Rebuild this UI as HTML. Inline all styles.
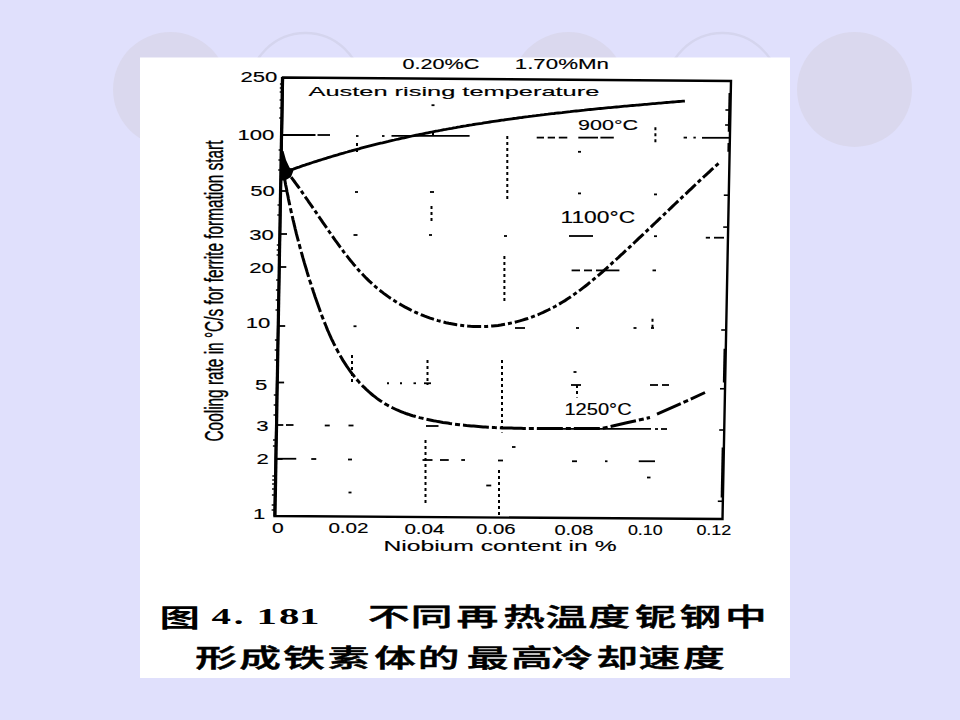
<!DOCTYPE html>
<html><head><meta charset="utf-8"><style>
html,body{margin:0;padding:0;}
body{width:960px;height:720px;overflow:hidden;background:#E0E0FC;position:relative;}
svg{position:absolute;left:0;top:0;}
</style></head><body>
<svg width="960" height="720" viewBox="0 0 960 720">
<rect width="960" height="720" fill="#E0E0FC"/>
<circle cx="170.5" cy="89.5" r="57.5" fill="#DAD8EE"/>
<circle cx="305.5" cy="89.5" r="56.5" fill="none" stroke="#D5D5EE" stroke-width="2.4"/>
<circle cx="568.5" cy="89.5" r="57.5" fill="#DAD8EE"/>
<circle cx="722.5" cy="89.5" r="56.5" fill="none" stroke="#D5D5EE" stroke-width="2.4"/>
<circle cx="854.5" cy="89.5" r="57.5" fill="#DAD8EE"/>
<rect x="140" y="57.5" width="650" height="620.5" fill="#fff"/>
<g fill="#000">
<polygon points="283,77.5 731,81 722.5,519 274.5,516" fill="none" stroke="#000" stroke-width="2.4" stroke-linejoin="miter"/>
<line x1="282.5" y1="77" x2="275" y2="516" stroke="#000" stroke-width="3.2"/>
<path d="M289.5,170.4 L291.4,169.7 L293.3,169.1 L295.3,168.4 L297.2,167.7 L299.1,167.1 L301.0,166.4 L302.9,165.7 L304.8,165.1 L306.7,164.4 L308.7,163.8 L310.6,163.2 L312.5,162.5 L314.4,161.9 L316.4,161.3 L318.3,160.7 L320.2,160.1 L322.1,159.5 L324.1,158.9 L326.0,158.3 L327.9,157.7 L329.9,157.1 L331.8,156.5 L333.7,155.9 L335.7,155.3 L337.6,154.8 L339.6,154.2 L341.5,153.6 L343.5,153.1 L345.4,152.5 L347.3,152.0 L349.3,151.4 L351.2,150.9 L353.2,150.3 L355.1,149.8 L357.1,149.3 L359.0,148.8 L361.0,148.2 L362.9,147.7 L364.9,147.2 L366.8,146.7 L368.8,146.2 L370.8,145.7 L372.7,145.2 L374.7,144.7 L376.6,144.2 L378.6,143.7 L380.6,143.2 L382.5,142.8 L384.5,142.3 L386.5,141.8 L388.4,141.4 L390.4,140.9 L392.4,140.4 L394.3,140.0 L396.3,139.5 L398.3,139.1 L400.2,138.6 L402.2,138.2 L404.2,137.8 L406.2,137.3 L408.1,136.9 L410.1,136.5 L412.1,136.0 L414.1,135.6 L416.1,135.2 L418.0,134.8 L420.0,134.4 L422.0,134.0 L424.0,133.6 L426.0,133.2 L427.9,132.8 L429.9,132.4 L431.9,132.0 L433.9,131.6 L435.9,131.2 L437.9,130.9 L439.9,130.5 L441.9,130.1 L443.8,129.7 L445.8,129.4 L447.8,129.0 L449.8,128.6 L451.8,128.3 L453.8,127.9 L455.8,127.6 L457.8,127.2 L459.8,126.9 L461.8,126.5 L463.8,126.2 L465.8,125.9 L467.8,125.5 L469.8,125.2 L471.8,124.9 L473.8,124.5 L475.8,124.2 L477.8,123.9 L479.8,123.6 L481.8,123.3 L483.8,122.9 L485.8,122.6 L487.8,122.3 L489.8,122.0 L491.8,121.7 L493.8,121.4 L495.8,121.1 L497.8,120.8 L499.8,120.5 L501.8,120.2 L503.8,120.0 L505.8,119.7 L507.8,119.4 L509.8,119.1 L511.8,118.8 L513.8,118.5 L515.8,118.3 L517.9,118.0 L519.9,117.7 L521.9,117.5 L523.9,117.2 L525.9,116.9 L527.9,116.7 L529.9,116.4 L531.9,116.2 L533.9,115.9 L535.9,115.7 L538.0,115.4 L540.0,115.2 L542.0,114.9 L544.0,114.7 L546.0,114.4 L548.0,114.2 L550.0,113.9 L552.0,113.7 L554.1,113.5 L556.1,113.2 L558.1,113.0 L560.1,112.8 L562.1,112.6 L564.1,112.3 L566.1,112.1 L568.2,111.9 L570.2,111.7 L572.2,111.4 L574.2,111.2 L576.2,111.0 L578.2,110.8 L580.2,110.6 L582.3,110.4 L584.3,110.2 L586.3,109.9 L588.3,109.7 L590.3,109.5 L592.3,109.3 L594.4,109.1 L596.4,108.9 L598.4,108.7 L600.4,108.5 L602.4,108.3 L604.4,108.1 L606.4,107.9 L608.5,107.7 L610.5,107.6 L612.5,107.4 L614.5,107.2 L616.5,107.0 L618.5,106.8 L620.6,106.6 L622.6,106.4 L624.6,106.2 L626.6,106.1 L628.6,105.9 L630.6,105.7 L632.6,105.5 L634.7,105.3 L636.7,105.1 L638.7,105.0 L640.7,104.8 L642.7,104.6 L644.7,104.4 L646.7,104.3 L648.7,104.1 L650.8,103.9 L652.8,103.7 L654.8,103.6 L656.8,103.4 L658.8,103.2 L660.8,103.1 L662.8,102.9 L664.8,102.7 L666.8,102.5 L668.9,102.4 L670.9,102.2 L672.9,102.0 L674.9,101.9 L676.9,101.7 L678.9,101.5 L680.9,101.4 L682.9,101.2 L684.9,101.1" fill="none" stroke="#000" stroke-width="2.8"/>
<path d="M291.2,177.1 L292.8,179.3 L294.4,181.5 L296.1,183.8 L297.7,186.0 L299.3,188.2 L300.9,190.5 L302.4,192.7 L304.0,195.0 L305.6,197.3 L307.2,199.5 L308.7,201.8 L310.3,204.1 L311.9,206.4 L313.4,208.6 L315.0,210.9 L316.6,213.2 L318.1,215.5 L319.7,217.8 L321.3,220.1 L322.8,222.4 L324.4,224.7 L326.0,226.9 L327.6,229.2 L329.1,231.5 L330.7,233.8 L332.3,236.0 L333.9,238.3 L335.5,240.6 L337.2,242.8 L338.8,245.1 L340.4,247.3 L342.1,249.5 L343.7,251.8 L345.4,254.0 L347.1,256.1 L348.8,258.3 L350.5,260.5 L352.3,262.6 L354.0,264.7 L355.8,266.8 L357.6,268.9 L359.4,271.0 L361.3,273.0 L363.2,275.0 L365.1,277.0 L367.0,278.9 L369.0,280.9 L371.0,282.7 L373.1,284.6 L375.1,286.4 L377.2,288.2 L379.4,290.0 L381.6,291.7 L383.7,293.4 L386.0,295.0 L388.2,296.6 L390.5,298.2 L392.8,299.7 L395.1,301.2 L397.5,302.7 L399.9,304.1 L402.3,305.5 L404.7,306.9 L407.2,308.2 L409.6,309.4 L412.1,310.7 L414.6,311.9 L417.2,313.0 L419.7,314.1 L422.3,315.2 L424.8,316.2 L427.4,317.1 L430.1,318.1 L432.7,318.9 L435.3,319.8 L438.0,320.6 L440.6,321.3 L443.3,322.0 L446.0,322.7 L448.7,323.3 L451.4,323.8 L454.1,324.3 L456.8,324.8 L459.6,325.2 L462.3,325.5 L465.0,325.8 L467.8,326.1 L470.5,326.3 L473.3,326.4 L476.0,326.5 L478.8,326.6 L481.5,326.6 L484.3,326.5 L487.1,326.4 L489.8,326.2 L492.6,326.0 L495.3,325.7 L498.1,325.4 L500.8,325.0 L503.5,324.5 L506.2,324.1 L509.0,323.5 L511.7,322.9 L514.4,322.3 L517.1,321.6 L519.7,320.9 L522.4,320.1 L525.1,319.3 L527.7,318.5 L530.3,317.6 L532.9,316.6 L535.5,315.6 L538.1,314.6 L540.6,313.5 L543.2,312.4 L545.7,311.2 L548.2,310.0 L550.6,308.8 L553.1,307.5 L555.5,306.2 L557.9,304.8 L560.3,303.4 L562.6,302.0 L565.0,300.6 L567.3,299.1 L569.6,297.6 L571.9,296.0 L574.1,294.4 L576.4,292.8 L578.6,291.2 L580.8,289.6 L583.0,287.9 L585.2,286.2 L587.4,284.5 L589.6,282.7 L591.7,281.0 L593.8,279.2 L596.0,277.4 L598.1,275.6 L600.2,273.8 L602.3,272.0 L604.4,270.2 L606.5,268.3 L608.5,266.5 L610.6,264.6 L612.6,262.7 L614.7,260.9 L616.7,259.0 L618.8,257.1 L620.8,255.2 L622.9,253.3 L624.9,251.4 L626.9,249.6 L629.0,247.7 L631.0,245.8 L633.0,243.9 L635.0,242.0 L637.0,240.1 L639.0,238.2 L641.0,236.3 L643.1,234.4 L645.1,232.5 L647.1,230.6 L649.1,228.7 L651.1,226.8 L653.1,224.9 L655.1,223.0 L657.1,221.1 L659.1,219.2 L661.1,217.3 L663.1,215.4 L665.1,213.5 L667.1,211.6 L669.0,209.7 L671.0,207.8 L673.0,205.9 L675.0,204.0 L677.0,202.1 L679.0,200.2 L681.0,198.3 L683.0,196.4 L685.1,194.5 L687.1,192.6 L689.1,190.7 L691.1,188.8 L693.1,186.9 L695.1,185.0 L697.1,183.1 L699.1,181.2 L701.2,179.3 L703.2,177.4 L705.2,175.5 L707.3,173.7 L709.3,171.8 L711.3,169.9 L713.4,168.0 L715.4,166.1 L717.5,164.3 L719.5,162.4" fill="none" stroke="#000" stroke-width="3" stroke-dasharray="14 3 4 3"/>
<path d="M284.8,179.8 L285.2,182.2 L285.6,184.6 L286.1,186.9 L286.6,189.3 L287.0,191.7 L287.5,194.1 L288.0,196.4 L288.4,198.8 L288.9,201.1 L289.4,203.4 L289.9,205.8 L290.4,208.1 L290.9,210.4 L291.4,212.7 L292.0,215.0 L292.5,217.3 L293.0,219.6 L293.6,221.9 L294.1,224.2 L294.7,226.5 L295.2,228.8 L295.8,231.1 L296.3,233.4 L296.9,235.6 L297.5,237.9 L298.1,240.2 L298.7,242.4 L299.3,244.7 L299.9,247.0 L300.5,249.2 L301.1,251.5 L301.8,253.7 L302.4,256.0 L303.0,258.2 L303.7,260.5 L304.3,262.7 L305.0,265.0 L305.7,267.2 L306.4,269.5 L307.0,271.7 L307.7,274.0 L308.4,276.2 L309.1,278.5 L309.8,280.7 L310.6,283.0 L311.3,285.2 L312.0,287.5 L312.8,289.7 L313.5,292.0 L314.3,294.3 L315.0,296.5 L315.8,298.8 L316.6,301.0 L317.4,303.3 L318.2,305.6 L319.0,307.8 L319.8,310.1 L320.6,312.4 L321.5,314.6 L322.3,316.9 L323.2,319.1 L324.1,321.4 L325.0,323.6 L325.9,325.8 L326.8,328.1 L327.7,330.3 L328.7,332.5 L329.6,334.7 L330.6,336.9 L331.6,339.1 L332.7,341.2 L333.7,343.4 L334.8,345.5 L335.9,347.7 L337.0,349.8 L338.1,351.9 L339.2,354.0 L340.4,356.0 L341.6,358.1 L342.8,360.1 L344.1,362.1 L345.4,364.1 L346.7,366.1 L348.0,368.0 L349.3,369.9 L350.7,371.8 L352.1,373.7 L353.6,375.5 L355.0,377.4 L356.5,379.2 L358.1,380.9 L359.6,382.7 L361.2,384.4 L362.8,386.1 L364.5,387.7 L366.2,389.4 L367.9,390.9 L369.6,392.5 L371.4,394.0 L373.2,395.5 L375.1,396.9 L376.9,398.4 L378.8,399.7 L380.7,401.0 L382.7,402.3 L384.7,403.6 L386.7,404.7 L388.7,405.9 L390.8,407.0 L392.9,408.0 L395.0,409.0 L397.1,410.0 L399.3,410.9 L401.5,411.8 L403.7,412.7 L405.9,413.5 L408.1,414.2 L410.4,415.0 L412.6,415.7 L414.9,416.3 L417.2,417.0 L419.5,417.6 L421.8,418.1 L424.2,418.7 L426.5,419.2 L428.8,419.7 L431.2,420.2 L433.5,420.7 L435.9,421.1 L438.2,421.6 L440.6,422.0 L442.9,422.4 L445.3,422.7 L447.7,423.1 L450.0,423.5 L452.4,423.8 L454.7,424.1 L457.1,424.4 L459.5,424.7 L461.8,425.0 L464.2,425.2 L466.6,425.5 L468.9,425.7 L471.3,425.9 L473.7,426.1 L476.0,426.3 L478.4,426.5 L480.8,426.7 L483.1,426.9 L485.5,427.0 L487.9,427.2 L490.3,427.3 L492.6,427.4 L495.0,427.6 L497.4,427.7 L499.8,427.8 L502.1,427.9 L504.5,427.9 L506.9,428.0 L509.3,428.1 L511.6,428.1 L514.0,428.2 L516.4,428.2 L518.8,428.3 L521.1,428.3 L523.5,428.4 L525.9,428.4 L528.3,428.4 L530.6,428.4 L533.0,428.4 L535.4,428.4 L537.8,428.5 L540.1,428.5 L542.5,428.5 L544.9,428.5 L547.3,428.5 L549.6,428.5 L552.0,428.5 L554.4,428.4 L556.8,428.4 L559.1,428.4 L561.5,428.4 L563.9,428.4 L566.2,428.4 L568.6,428.4 L571.0,428.4 L573.3,428.4 L575.7,428.4 L578.1,428.4 L580.4,428.4 L582.8,428.4 L585.1,428.4 L587.5,428.4 L589.8,428.5 L592.2,428.5 L594.6,428.5 L596.9,428.6 L599.3,428.6 L601.6,428.6 L626.7,422.8 L650,417.5 M657,414.2 L683.3,402.5 L705,392.5" fill="none" stroke="#000" stroke-width="3" stroke-dasharray="26 3 5 3"/>
<polygon points="281.5,151 283.5,151 286,160 289.5,167.5 293.5,170.5 291,177 285,180.5 281,180.5" fill="#000"/>
<line x1="282" y1="135" x2="315.5" y2="135" stroke="#000" stroke-width="1.8"/>
<line x1="317.5" y1="135" x2="330" y2="135" stroke="#000" stroke-width="1.8"/>
<line x1="356" y1="136" x2="358.5" y2="136" stroke="#000" stroke-width="1.8"/>
<line x1="382" y1="136" x2="384.5" y2="136" stroke="#000" stroke-width="1.8"/>
<line x1="391.5" y1="135.8" x2="469.6" y2="135.8" stroke="#000" stroke-width="1.8"/>
<line x1="536.7" y1="137.6" x2="544" y2="137.6" stroke="#000" stroke-width="1.8"/>
<line x1="547.7" y1="137.6" x2="555" y2="137.6" stroke="#000" stroke-width="1.8"/>
<line x1="558.8" y1="137.6" x2="567.3" y2="137.6" stroke="#000" stroke-width="1.8"/>
<line x1="578.3" y1="137.6" x2="598" y2="137.6" stroke="#000" stroke-width="1.8"/>
<line x1="600.4" y1="137.6" x2="613.8" y2="137.6" stroke="#000" stroke-width="1.8"/>
<line x1="683.6" y1="137.6" x2="687" y2="137.6" stroke="#000" stroke-width="1.8"/>
<line x1="693.4" y1="137.6" x2="695.8" y2="137.6" stroke="#000" stroke-width="1.8"/>
<line x1="702" y1="137.8" x2="730" y2="137.8" stroke="#000" stroke-width="1.8"/>
<line x1="355" y1="192" x2="358" y2="192" stroke="#000" stroke-width="1.8"/>
<line x1="430" y1="192" x2="434" y2="192" stroke="#000" stroke-width="1.8"/>
<line x1="578" y1="193.4" x2="581" y2="193.4" stroke="#000" stroke-width="1.8"/>
<line x1="654" y1="194.4" x2="657" y2="194.4" stroke="#000" stroke-width="1.8"/>
<line x1="353.5" y1="235" x2="357.5" y2="235" stroke="#000" stroke-width="1.8"/>
<line x1="429" y1="235" x2="432" y2="235" stroke="#000" stroke-width="1.8"/>
<line x1="504" y1="236" x2="507" y2="236" stroke="#000" stroke-width="1.8"/>
<line x1="569" y1="236" x2="593" y2="236" stroke="#000" stroke-width="1.8"/>
<line x1="654" y1="236.2" x2="657" y2="236.2" stroke="#000" stroke-width="1.8"/>
<line x1="705.8" y1="237.7" x2="710" y2="237.7" stroke="#000" stroke-width="1.8"/>
<line x1="714" y1="237.7" x2="724" y2="237.7" stroke="#000" stroke-width="1.8"/>
<line x1="571.6" y1="270.4" x2="580" y2="270.4" stroke="#000" stroke-width="1.8"/>
<line x1="584" y1="270.4" x2="592" y2="270.4" stroke="#000" stroke-width="1.8"/>
<line x1="596" y1="270.4" x2="619.4" y2="270.4" stroke="#000" stroke-width="1.8"/>
<line x1="652.5" y1="270.4" x2="656" y2="270.4" stroke="#000" stroke-width="1.8"/>
<line x1="353.5" y1="326.25" x2="356.5" y2="326.25" stroke="#000" stroke-width="1.8"/>
<line x1="515" y1="328" x2="525" y2="328" stroke="#000" stroke-width="1.8"/>
<line x1="576" y1="328" x2="579" y2="328" stroke="#000" stroke-width="1.8"/>
<line x1="633.5" y1="328" x2="636.5" y2="328" stroke="#000" stroke-width="1.8"/>
<line x1="651" y1="328" x2="654" y2="328" stroke="#000" stroke-width="1.8"/>
<line x1="387" y1="383.25" x2="389" y2="383.25" stroke="#000" stroke-width="1.8"/>
<line x1="400" y1="383.25" x2="402" y2="383.25" stroke="#000" stroke-width="1.8"/>
<line x1="413.5" y1="383.25" x2="416" y2="383.25" stroke="#000" stroke-width="1.8"/>
<line x1="424" y1="383.25" x2="431" y2="383.25" stroke="#000" stroke-width="1.8"/>
<line x1="571" y1="385" x2="581" y2="385" stroke="#000" stroke-width="1.8"/>
<line x1="650" y1="385" x2="658" y2="385" stroke="#000" stroke-width="1.8"/>
<line x1="662" y1="385" x2="669" y2="385" stroke="#000" stroke-width="1.8"/>
<line x1="286" y1="425" x2="293.5" y2="425" stroke="#000" stroke-width="1.8"/>
<line x1="324.75" y1="425.5" x2="329.75" y2="425.5" stroke="#000" stroke-width="1.8"/>
<line x1="348.5" y1="425.5" x2="353.5" y2="425.5" stroke="#000" stroke-width="1.8"/>
<line x1="426" y1="426" x2="438.5" y2="426" stroke="#000" stroke-width="1.8"/>
<line x1="560" y1="428.8" x2="651" y2="428.8" stroke="#000" stroke-width="1.8"/>
<line x1="655" y1="429" x2="658" y2="429" stroke="#000" stroke-width="1.8"/>
<line x1="661" y1="429" x2="667" y2="429" stroke="#000" stroke-width="1.8"/>
<line x1="276" y1="458.75" x2="296.25" y2="458.75" stroke="#000" stroke-width="1.8"/>
<line x1="311.25" y1="459" x2="316.25" y2="459" stroke="#000" stroke-width="1.8"/>
<line x1="348" y1="459.5" x2="352" y2="459.5" stroke="#000" stroke-width="1.8"/>
<line x1="422.5" y1="460" x2="432.5" y2="460" stroke="#000" stroke-width="1.8"/>
<line x1="440" y1="460" x2="448.75" y2="460" stroke="#000" stroke-width="1.8"/>
<line x1="461.25" y1="460" x2="465" y2="460" stroke="#000" stroke-width="1.8"/>
<line x1="498" y1="460.5" x2="503" y2="460.5" stroke="#000" stroke-width="1.8"/>
<line x1="572" y1="461.25" x2="577" y2="461.25" stroke="#000" stroke-width="1.8"/>
<line x1="605" y1="461.25" x2="607.5" y2="461.25" stroke="#000" stroke-width="1.8"/>
<line x1="638.75" y1="461.25" x2="655" y2="461.25" stroke="#000" stroke-width="1.8"/>
<line x1="431.5" y1="105.2" x2="434.5" y2="105.2" stroke="#000" stroke-width="1.8"/>
<line x1="578" y1="151.8" x2="581" y2="151.8" stroke="#000" stroke-width="1.8"/>
<line x1="512" y1="447" x2="515.5" y2="447" stroke="#000" stroke-width="1.8"/>
<line x1="647" y1="477.5" x2="650.5" y2="477.5" stroke="#000" stroke-width="1.8"/>
<line x1="348.5" y1="492.5" x2="351.5" y2="492.5" stroke="#000" stroke-width="1.8"/>
<line x1="573.5" y1="372" x2="576.5" y2="372" stroke="#000" stroke-width="1.8"/>
<line x1="486.25" y1="485.5" x2="491.25" y2="485.5" stroke="#000" stroke-width="1.8"/>
<line x1="357" y1="143" x2="357" y2="155" stroke="#000" stroke-width="2" stroke-dasharray="3 3"/>
<line x1="433" y1="133" x2="433" y2="138" stroke="#000" stroke-width="2" stroke-dasharray="3 3"/>
<line x1="431.5" y1="206" x2="431.5" y2="222" stroke="#000" stroke-width="2" stroke-dasharray="3 3"/>
<line x1="507.3" y1="136" x2="507.3" y2="200" stroke="#000" stroke-width="2" stroke-dasharray="3 3"/>
<line x1="504.4" y1="256" x2="504.4" y2="304" stroke="#000" stroke-width="2" stroke-dasharray="3 3"/>
<line x1="502" y1="360" x2="502" y2="432.5" stroke="#000" stroke-width="2" stroke-dasharray="3 3"/>
<line x1="499" y1="470" x2="499" y2="515" stroke="#000" stroke-width="2" stroke-dasharray="3 3"/>
<line x1="425.5" y1="440" x2="425.5" y2="503" stroke="#000" stroke-width="2" stroke-dasharray="3 3"/>
<line x1="427.5" y1="360" x2="427.5" y2="385" stroke="#000" stroke-width="2" stroke-dasharray="3 3"/>
<line x1="352" y1="355" x2="352" y2="385" stroke="#000" stroke-width="2" stroke-dasharray="3 3"/>
<line x1="655.4" y1="127.3" x2="655.4" y2="143.3" stroke="#000" stroke-width="2" stroke-dasharray="3 3"/>
<line x1="652.5" y1="318.75" x2="652.5" y2="328" stroke="#000" stroke-width="2" stroke-dasharray="3 3"/>
<line x1="577" y1="385" x2="577" y2="397.5" stroke="#000" stroke-width="2" stroke-dasharray="3 3"/>
<line x1="281.9" y1="135" x2="288.9" y2="135" stroke="#000" stroke-width="1.8"/>
<line x1="280.8" y1="191" x2="287.8" y2="191" stroke="#000" stroke-width="1.8"/>
<line x1="280.0" y1="234" x2="287.0" y2="234" stroke="#000" stroke-width="1.8"/>
<line x1="279.3" y1="267" x2="286.3" y2="267" stroke="#000" stroke-width="1.8"/>
<line x1="278.2" y1="326" x2="285.2" y2="326" stroke="#000" stroke-width="1.8"/>
<line x1="277.1" y1="382.5" x2="284.1" y2="382.5" stroke="#000" stroke-width="1.8"/>
<line x1="276.3" y1="425" x2="283.3" y2="425" stroke="#000" stroke-width="1.8"/>
<line x1="275.6" y1="459" x2="282.6" y2="459" stroke="#000" stroke-width="1.8"/>
<line x1="279.9" y1="84" x2="282.9" y2="84" stroke="#000" stroke-width="1.4"/>
<line x1="279.8" y1="88" x2="282.8" y2="88" stroke="#000" stroke-width="1.4"/>
<line x1="279.7" y1="92" x2="282.7" y2="92" stroke="#000" stroke-width="1.4"/>
<line x1="279.6" y1="100" x2="282.6" y2="100" stroke="#000" stroke-width="1.4"/>
<line x1="279.4" y1="108" x2="282.4" y2="108" stroke="#000" stroke-width="1.4"/>
<line x1="279.2" y1="118" x2="282.2" y2="118" stroke="#000" stroke-width="1.4"/>
<line x1="278.6" y1="150" x2="281.6" y2="150" stroke="#000" stroke-width="1.4"/>
<line x1="278.4" y1="160" x2="281.4" y2="160" stroke="#000" stroke-width="1.4"/>
<line x1="278.2" y1="170" x2="281.2" y2="170" stroke="#000" stroke-width="1.4"/>
<line x1="277.5" y1="205" x2="280.5" y2="205" stroke="#000" stroke-width="1.4"/>
<line x1="277.3" y1="215" x2="280.3" y2="215" stroke="#000" stroke-width="1.4"/>
<line x1="276.8" y1="245" x2="279.8" y2="245" stroke="#000" stroke-width="1.4"/>
<line x1="276.7" y1="250" x2="279.7" y2="250" stroke="#000" stroke-width="1.4"/>
<line x1="276.6" y1="255" x2="279.6" y2="255" stroke="#000" stroke-width="1.4"/>
<line x1="276.1" y1="280" x2="279.1" y2="280" stroke="#000" stroke-width="1.4"/>
<line x1="275.9" y1="290" x2="278.9" y2="290" stroke="#000" stroke-width="1.4"/>
<line x1="275.7" y1="300" x2="278.7" y2="300" stroke="#000" stroke-width="1.4"/>
<line x1="275.5" y1="310" x2="278.5" y2="310" stroke="#000" stroke-width="1.4"/>
<line x1="274.9" y1="340" x2="277.9" y2="340" stroke="#000" stroke-width="1.4"/>
<line x1="274.7" y1="350" x2="277.7" y2="350" stroke="#000" stroke-width="1.4"/>
<line x1="274.5" y1="360" x2="277.5" y2="360" stroke="#000" stroke-width="1.4"/>
<line x1="273.8" y1="395" x2="276.8" y2="395" stroke="#000" stroke-width="1.4"/>
<line x1="273.7" y1="405" x2="276.7" y2="405" stroke="#000" stroke-width="1.4"/>
<line x1="273.5" y1="415" x2="276.5" y2="415" stroke="#000" stroke-width="1.4"/>
<line x1="273.0" y1="440" x2="276.0" y2="440" stroke="#000" stroke-width="1.4"/>
<line x1="272.9" y1="446" x2="275.9" y2="446" stroke="#000" stroke-width="1.4"/>
<line x1="272.3" y1="476" x2="275.3" y2="476" stroke="#000" stroke-width="1.4"/>
<line x1="272.2" y1="480" x2="275.2" y2="480" stroke="#000" stroke-width="1.4"/>
<line x1="272.1" y1="484" x2="275.1" y2="484" stroke="#000" stroke-width="1.4"/>
<line x1="272.0" y1="489" x2="275.0" y2="489" stroke="#000" stroke-width="1.4"/>
<line x1="271.9" y1="495" x2="274.9" y2="495" stroke="#000" stroke-width="1.4"/>
<line x1="271.7" y1="505" x2="274.7" y2="505" stroke="#000" stroke-width="1.4"/>
<line x1="271.6" y1="510" x2="274.6" y2="510" stroke="#000" stroke-width="1.4"/>
<line x1="723.8" y1="195.2" x2="728.8" y2="195.2" stroke="#000" stroke-width="1.6"/>
<line x1="723.2" y1="227.1" x2="728.2" y2="227.1" stroke="#000" stroke-width="1.6"/>
<line x1="721.2" y1="330" x2="726.2" y2="330" stroke="#000" stroke-width="1.6"/>
<line x1="720.0" y1="388.75" x2="725.0" y2="388.75" stroke="#000" stroke-width="1.6"/>
<line x1="719.2" y1="430" x2="724.2" y2="430" stroke="#000" stroke-width="1.6"/>
<line x1="717.8" y1="501.25" x2="722.8" y2="501.25" stroke="#000" stroke-width="1.6"/>
<line x1="725.4" y1="110" x2="730.4" y2="110" stroke="#000" stroke-width="1.6"/>
<line x1="725.1" y1="125" x2="730.1" y2="125" stroke="#000" stroke-width="1.6"/>
<line x1="729.8" y1="93" x2="729.0" y2="131.7" stroke="#000" stroke-width="2.5"/>
<line x1="728.8" y1="143" x2="728.6" y2="151.7" stroke="#000" stroke-width="2.5"/>
<line x1="724.8" y1="348.75" x2="724.1" y2="382.5" stroke="#000" stroke-width="2.5"/>
<line x1="722.9" y1="447.5" x2="721.9" y2="497.5" stroke="#000" stroke-width="2.5"/>
<text x="402.4" y="69.2" font-family="Liberation Sans" font-weight="400" font-size="15.4" textLength="76.9" lengthAdjust="spacingAndGlyphs" stroke="#000" stroke-width="0.15">0.20%C</text>
<text x="514.8" y="69.2" font-family="Liberation Sans" font-weight="400" font-size="15.4" textLength="94.1" lengthAdjust="spacingAndGlyphs" stroke="#000" stroke-width="0.15">1.70%Mn</text>
<text x="308.5" y="96.0" font-family="Liberation Sans" font-weight="400" font-size="13.3" textLength="290.8" lengthAdjust="spacingAndGlyphs" stroke="#000" stroke-width="0.15">Austen rising temperature</text>
<text x="578.1" y="129.5" font-family="Liberation Sans" font-weight="400" font-size="15.4" textLength="60.0" lengthAdjust="spacingAndGlyphs" stroke="#000" stroke-width="0.15">900°C</text>
<text x="560.4" y="223.0" font-family="Liberation Sans" font-weight="400" font-size="15.7" textLength="74.8" lengthAdjust="spacingAndGlyphs" stroke="#000" stroke-width="0.15">1100°C</text>
<text x="564.4" y="415.0" font-family="Liberation Sans" font-weight="400" font-size="15.7" textLength="67.3" lengthAdjust="spacingAndGlyphs" stroke="#000" stroke-width="0.15">1250°C</text>
<text x="277.3" y="82.0" text-anchor="end" font-family="Liberation Sans" font-weight="400" font-size="15.5" textLength="36.9" lengthAdjust="spacingAndGlyphs" stroke="#000" stroke-width="0.15">250</text>
<text x="274.3" y="140.3" text-anchor="end" font-family="Liberation Sans" font-weight="400" font-size="15.5" textLength="36.9" lengthAdjust="spacingAndGlyphs" stroke="#000" stroke-width="0.15">100</text>
<text x="274.8" y="196.2" text-anchor="end" font-family="Liberation Sans" font-weight="400" font-size="15.5" textLength="24.6" lengthAdjust="spacingAndGlyphs" stroke="#000" stroke-width="0.15">50</text>
<text x="273.8" y="239.5" text-anchor="end" font-family="Liberation Sans" font-weight="400" font-size="15.5" textLength="24.6" lengthAdjust="spacingAndGlyphs" stroke="#000" stroke-width="0.15">30</text>
<text x="273.8" y="273.0" text-anchor="end" font-family="Liberation Sans" font-weight="400" font-size="15.5" textLength="24.6" lengthAdjust="spacingAndGlyphs" stroke="#000" stroke-width="0.15">20</text>
<text x="270.3" y="328.3" text-anchor="end" font-family="Liberation Sans" font-weight="400" font-size="15.5" textLength="24.6" lengthAdjust="spacingAndGlyphs" stroke="#000" stroke-width="0.15">10</text>
<text x="267.4" y="389.7" text-anchor="end" font-family="Liberation Sans" font-weight="400" font-size="15.5" textLength="12.3" lengthAdjust="spacingAndGlyphs" stroke="#000" stroke-width="0.15">5</text>
<text x="268.6" y="431.2" text-anchor="end" font-family="Liberation Sans" font-weight="400" font-size="15.5" textLength="12.3" lengthAdjust="spacingAndGlyphs" stroke="#000" stroke-width="0.15">3</text>
<text x="268.8" y="464.0" text-anchor="end" font-family="Liberation Sans" font-weight="400" font-size="15.5" textLength="12.3" lengthAdjust="spacingAndGlyphs" stroke="#000" stroke-width="0.15">2</text>
<text x="265.3" y="519.0" text-anchor="end" font-family="Liberation Sans" font-weight="400" font-size="15.5" textLength="12.3" lengthAdjust="spacingAndGlyphs" stroke="#000" stroke-width="0.15">1</text>
<text x="271.9" y="532.5" font-family="Liberation Sans" font-weight="400" font-size="15.1" textLength="11.7" lengthAdjust="spacingAndGlyphs" stroke="#000" stroke-width="0.15">0</text>
<text x="328.4" y="532.8" font-family="Liberation Sans" font-weight="400" font-size="15.1" textLength="40.2" lengthAdjust="spacingAndGlyphs" stroke="#000" stroke-width="0.15">0.02</text>
<text x="404.4" y="533.8" font-family="Liberation Sans" font-weight="400" font-size="15.1" textLength="40.2" lengthAdjust="spacingAndGlyphs" stroke="#000" stroke-width="0.15">0.04</text>
<text x="476.0" y="534.2" font-family="Liberation Sans" font-weight="400" font-size="15.1" textLength="39.6" lengthAdjust="spacingAndGlyphs" stroke="#000" stroke-width="0.15">0.06</text>
<text x="554.4" y="535.3" font-family="Liberation Sans" font-weight="400" font-size="15.1" textLength="39.0" lengthAdjust="spacingAndGlyphs" stroke="#000" stroke-width="0.15">0.08</text>
<text x="627.9" y="535.3" font-family="Liberation Sans" font-weight="400" font-size="15.1" textLength="34.7" lengthAdjust="spacingAndGlyphs" stroke="#000" stroke-width="0.15">0.10</text>
<text x="696.4" y="535.3" font-family="Liberation Sans" font-weight="400" font-size="15.1" textLength="34.9" lengthAdjust="spacingAndGlyphs" stroke="#000" stroke-width="0.15">0.12</text>
<text x="383.4" y="550.6" font-family="Liberation Sans" font-weight="400" font-size="15.1" textLength="233.2" lengthAdjust="spacingAndGlyphs" stroke="#000" stroke-width="0.15">Niobium content in %</text>
<text transform="translate(223,441.5) rotate(-90)" x="0" y="0" font-family="Liberation Sans" font-weight="400" font-size="26" stroke="#000" stroke-width="0.4" textLength="301" lengthAdjust="spacingAndGlyphs">Cooling rate in °C/s for ferrite formation start</text>
</g>
<g fill="#000">
<text transform="translate(159.5,626.5) scale(1.62,1)" font-family="Noto Sans CJK SC" font-weight="700" font-size="25">图</text>
<text transform="scale(1.62,1)" x="130.56 144.32" y="624.2" font-family="Liberation Serif" font-weight="700" font-size="24">4.</text>
<text transform="scale(1.7,1)" x="150.82 164.12 175.82" y="624.2" font-family="Liberation Serif" font-weight="700" font-size="24">181</text>
<text transform="scale(1.67,1)" x="220.33 245.90 273.35 301.29 326.65 352.22 380.09 406.89 434.13" y="626.5" font-family="Noto Sans CJK SC" font-weight="500" font-size="25" stroke="#000" stroke-width="0.5">不同再热温度铌钢中</text>
<text transform="scale(1.67,1)" x="116.92 143.23 169.61 196.29 224.16 250.12 279.46 305.99 330.12 357.07 382.28 408.98" y="667" font-family="Noto Sans CJK SC" font-weight="500" font-size="25" stroke="#000" stroke-width="0.5">形成铁素体的最高冷却速度</text>
</g>
</svg>
</body></html>
